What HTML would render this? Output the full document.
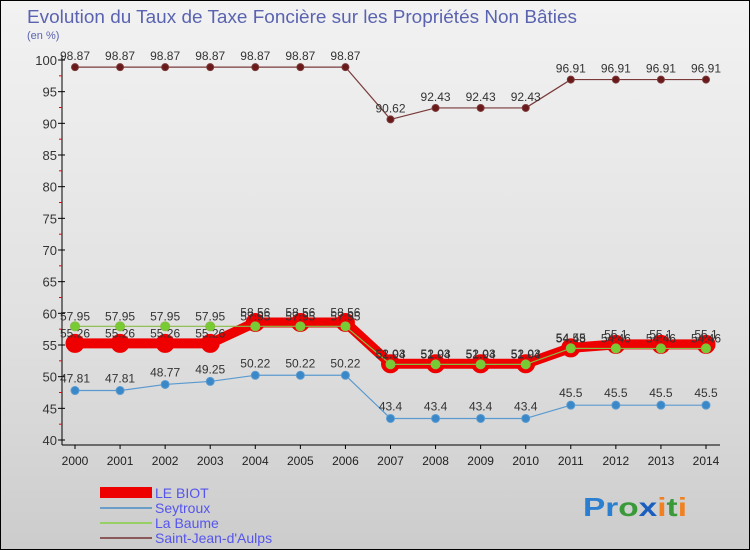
<!DOCTYPE html>
<html><head><meta charset="utf-8"><style>
body{margin:0;width:750px;height:550px;overflow:hidden;font-family:"Liberation Sans",sans-serif}
#c{position:absolute;left:0;top:0;width:748px;height:548px;border:1px solid #000;background:linear-gradient(#f2f2f2,#e0e0e0 60%,#cccccc)}
</style></head><body>
<div id="c"></div>
<svg id="s" width="750" height="550" style="position:absolute;left:0;top:0" font-family="Liberation Sans, sans-serif">
<text x="27" y="23" font-size="18" fill="#5a63b0" textLength="550" lengthAdjust="spacingAndGlyphs">Evolution du Taux de Taxe Foncière sur les Propriétés Non Bâties</text>
<text x="27" y="39" font-size="11" fill="#5a63b0">(en %)</text>
<g id="axes"></g><g id="series"></g>
<g>
<rect x="100" y="487" width="52" height="11" fill="#ee0000"/>
<rect x="100" y="507" width="52" height="2" fill="#6a9ec8"/>
<rect x="100" y="522" width="52" height="2" fill="#99d066"/>
<rect x="100" y="537" width="52" height="2" fill="#8a5a5a"/>
<g font-size="14" fill="#5555ee">
<text x="155" y="498">LE BIOT</text>
<text x="155" y="513">Seytroux</text>
<text x="155" y="528">La Baume</text>
<text x="155" y="543">Saint-Jean-d'Aulps</text>
</g></g>
<text x="583" y="516" font-size="26" font-weight="bold" textLength="104" lengthAdjust="spacingAndGlyphs"><tspan fill="#2a7fd0">Pr</tspan><tspan fill="#3a9a3a">o</tspan><tspan fill="#1a5fc0">x</tspan><tspan fill="#f08020">i</tspan><tspan fill="#3a9a3a">t</tspan><tspan fill="#f08020">i</tspan></text>
</svg>
<script>
const years=["2000","2001","2002","2003","2004","2005","2006","2007","2008","2009","2010","2011","2012","2013","2014"];
const yTicks=[40,45,50,55,60,65,70,75,80,85,90,95,100];
const leBiot=[55.26,55.26,55.26,55.26,58.56,58.56,58.56,52.03,52.03,52.03,52.03,54.55,55.1,55.1,55.1];
const seytroux=[47.81,47.81,48.77,49.25,50.22,50.22,50.22,43.4,43.4,43.4,43.4,45.5,45.5,45.5,45.5];
const laBaume=[57.95,57.95,57.95,57.95,57.95,57.95,57.95,51.94,51.94,51.94,51.94,54.48,54.46,54.46,54.46];
const saintJean=[98.87,98.87,98.87,98.87,98.87,98.87,98.87,90.62,92.43,92.43,92.43,96.91,96.91,96.91,96.91];
const NS="http://www.w3.org/2000/svg";
const X=i=>75+i*(706-75)/(years.length-1);
const Y=v=>440-(v-40)*(380/60);
function mk(t,a,p){const e=document.createElementNS(NS,t);for(const k in a)e.setAttribute(k,a[k]);p.appendChild(e);return e;}
const ax=document.getElementById('axes'),sg=document.getElementById('series');
const yl=mk('line',{x1:62,y1:55,x2:62,y2:445,stroke:'#000','stroke-width':1},ax);


const xl=mk('line',{x1:62,y1:445,x2:720,y2:445,stroke:'#000','stroke-width':1},ax);


yTicks.forEach((v,i)=>{
 mk('line',{x1:58,y1:Y(v),x2:65,y2:Y(v),stroke:'#000'},ax);
 if(i<yTicks.length-1) mk('line',{x1:59,y1:Y(v+2.5),x2:62,y2:Y(v+2.5),stroke:'#e00'},ax);
 const t=mk('text',{x:57,y:Y(v)+5,'text-anchor':'end','font-size':13,fill:'#333'},ax);t.textContent=v;
 
 
});
years.forEach((y,i)=>{
 mk('line',{x1:X(i),y1:445,x2:X(i),y2:449,stroke:'#000'},ax);
 const t=mk('text',{x:X(i),y:465,'text-anchor':'middle','font-size':12,fill:'#222'},ax);t.textContent=y;
 
 
});
function series(name,data,color,w,r,fill,dy){
 const g=mk('g',{},sg);
 
 
 mk('polyline',{points:data.map((v,i)=>X(i)+','+Y(v)).join(' '),fill:'none',stroke:color,'stroke-width':w,'stroke-linejoin':'round'},g);
 data.forEach((v,i)=>{
  const c=mk('circle',{cx:X(i),cy:Y(v),r:r,fill:fill,stroke:color,'stroke-width':1},g);
  
  
  const t=mk('text',{x:X(i),y:Y(v)-dy,'text-anchor':'middle','font-size':12,fill:'#333'},g);t.textContent=String(v);
 });
}
series('series-saint-jean',saintJean,'#7a3a3a',1.2,3.5,'#6a1a1a',7);
series('series-seytroux',seytroux,'#5a9ad0',1.2,4,'#3a88c8',8);
series('series-le-biot',leBiot,'#ee0000',10,9,'#ee0000',6);
series('series-la-baume',laBaume,'#88bb44',1.2,4.5,'#77cc33',6);
</script>
</body></html>
